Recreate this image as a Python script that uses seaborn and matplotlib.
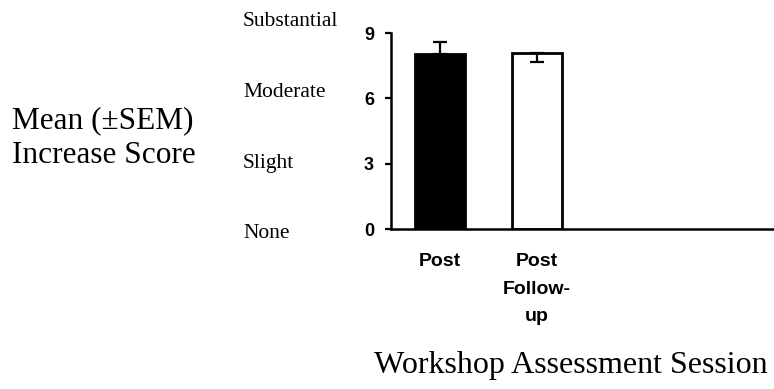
import matplotlib
matplotlib.use("Agg")
import matplotlib.pyplot as plt
import seaborn as sns
import pandas as pd

# ---- data ----
sessions = ["Post", "Post\nFollow-\nup"]
means = [8.04, 8.07]
sem_up = [0.53, 0.0]
sem_down = [0.0, 0.42]
bar_colors = ["black", "white"]
y_ticks = [0, 3, 6, 9]
rating_labels = ["None", "Slight", "Moderate", "Substantial"]

sns.set_style("white")
plt.rcParams["font.family"] = ["Liberation Sans", "DejaVu Sans"]
plt.rcParams["text.color"] = "black"
plt.rcParams["axes.labelcolor"] = "black"
plt.rcParams["xtick.color"] = "black"
plt.rcParams["ytick.color"] = "black"

fig = plt.figure(figsize=(7.74, 3.89), dpi=100)
ax = fig.add_axes([391 / 774, 1 - 229 / 389, 1 - 391 / 774, (229 - 33) / 389])

df = pd.DataFrame({"session": sessions, "mean": means})
sns.barplot(data=df, x="session", y="mean", hue="session", order=sessions,
            hue_order=sessions, palette=bar_colors, edgecolor="black",
            linewidth=2.0, width=0.52, legend=False, errorbar=None, ax=ax,
            zorder=2)

ax.errorbar(range(len(sessions)), means, yerr=[sem_down, sem_up], fmt="none",
            ecolor="black", elinewidth=1.6, capsize=4.7, capthick=1.6,
            zorder=3)

ax.set_ylim(0, 9)
ax.set_xlim(-0.51, 3.46)
ax.set_yticks(y_ticks)
ax.set_yticklabels([str(v) for v in y_ticks], fontweight="bold", fontsize=13)
ax.tick_params(axis="y", direction="out", length=4.3, width=1.6, pad=8,
               left=True, colors="black")
ax.tick_params(axis="x", length=0, pad=17.5)
for lab in ax.get_xticklabels():
    lab.set_fontweight("bold")
    lab.set_fontsize(14)
    lab.set_linespacing(1.8)
    lab.set_color("black")
ax.set_xlabel("")
ax.set_ylabel("")
sns.despine(ax=ax)
for sp in ["left", "bottom"]:
    ax.spines[sp].set_linewidth(1.8)
    ax.spines[sp].set_color("black")

serif = ["Liberation Serif", "DejaVu Serif"]
# rating labels
rating_baselines = [238, 168, 97, 25.7]
for lab, yb in zip(rating_labels, rating_baselines):
    fig.text(243 / 774, 1 - yb / 389, lab, family=serif, fontsize=15.5,
             ha="left", va="baseline", color="black")

fig.text(12 / 774, 1 - 128 / 389, "Mean (±SEM)",
         family=serif, fontsize=22.5, ha="left", va="baseline", color="black")
fig.text(12 / 774, 1 - 163 / 389, "Increase Score",
         family=serif, fontsize=22.5, ha="left", va="baseline", color="black")
fig.text(571 / 774, 1 - 373 / 389, "Workshop Assessment Session",
         family=serif, fontsize=23, ha="center", va="baseline", color="black")

fig.savefig("out.png", dpi=100)
